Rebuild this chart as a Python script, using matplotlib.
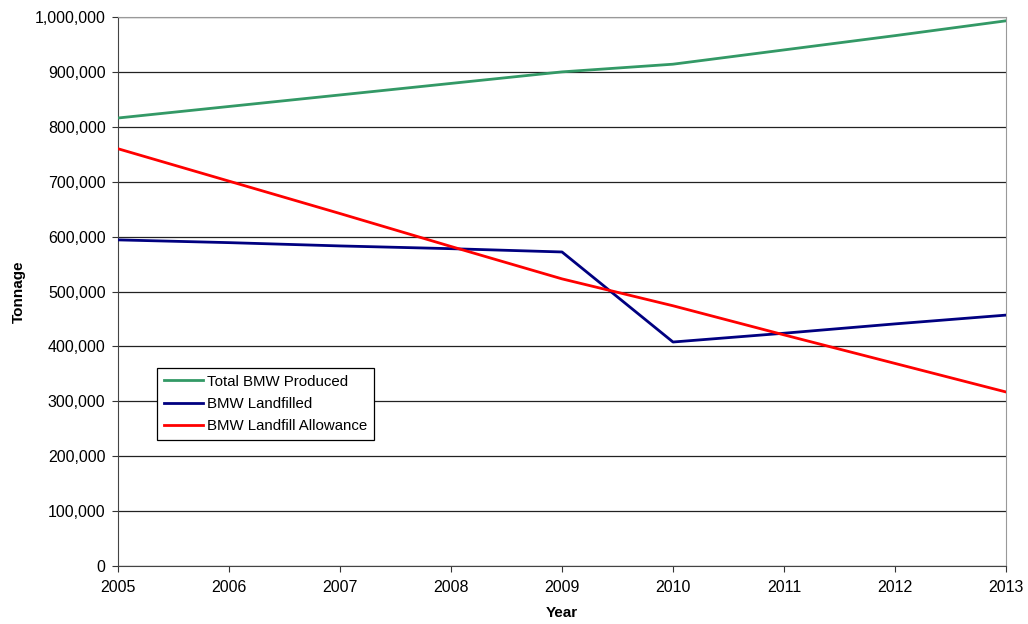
import matplotlib.pyplot as plt
from matplotlib.ticker import FuncFormatter

plt.rcParams['font.family'] = ['Liberation Sans', 'DejaVu Sans']

# BMW tonnage by year
years = [2005, 2006, 2007, 2008, 2009, 2010, 2011, 2012, 2013]
total_produced = [816000, 837000, 858000, 879000, 900000, 914000, 940000, 966000, 993000]
landfilled = [594000, 589000, 583000, 578000, 572000, 408000, 424000, 441000, 457000]
allowance = [760000, 701000, 642000, 582000, 523000, 474000, 421000, 369000, 317000]

fig = plt.figure(figsize=(10.28, 6.24), dpi=100)
ax = fig.add_axes([0.1148, 0.0929, 0.8638, 0.8799])

ax.plot(years, total_produced, color="#339966", lw=2.0, label="Total BMW Produced", zorder=3)
ax.plot(years, landfilled, color="#000080", lw=2.0, label="BMW Landfilled", zorder=3)
ax.plot(years, allowance, color="#FF0000", lw=2.0, label="BMW Landfill Allowance", zorder=3)

ax.set_xlim(2005, 2013)
ax.set_ylim(0, 1000000)
ax.set_xticks(years)
ax.set_yticks(range(0, 1000001, 100000))
ax.yaxis.set_major_formatter(FuncFormatter(lambda v, p: f"{int(v):,}"))

ax.grid(axis="y", color="#222222", lw=0.9)
ax.set_axisbelow(True)
for side in ["top", "right"]:
    ax.spines[side].set_color("#999999")
for side in ["left", "bottom"]:
    ax.spines[side].set_color("#444444")
ax.tick_params(direction="out", length=4, labelsize=11.5, color="#333333")
ax.tick_params(axis="x", pad=6)
ax.tick_params(axis="y", pad=5)

ax.set_xlabel("Year", fontweight="bold", fontsize=11, labelpad=8)
ax.set_ylabel("Tonnage", fontweight="bold", fontsize=11, labelpad=6)

leg = ax.legend(loc="upper left", bbox_to_anchor=(0.0439, 0.3607), fontsize=10.8,
                frameon=True, fancybox=False, edgecolor="black", framealpha=1,
                borderpad=0.45, handlelength=2.6, handletextpad=0.3,
                labelspacing=0.55, borderaxespad=0)
leg.get_frame().set_linewidth(0.9)

fig.savefig("out.png", dpi=100)
